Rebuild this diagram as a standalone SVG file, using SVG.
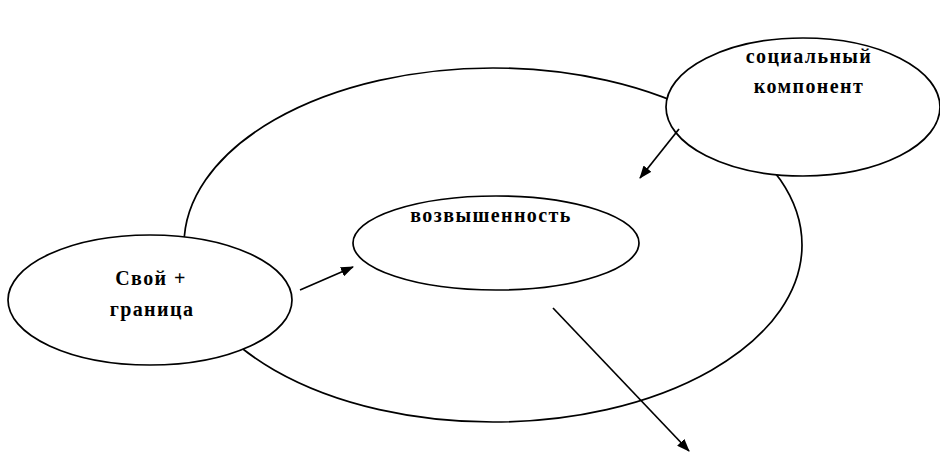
<svg xmlns="http://www.w3.org/2000/svg" width="940" height="452" viewBox="0 0 940 452">
<style>
.e{fill:#fff;stroke:#000;stroke-width:1.7}
.big{fill:none;stroke:#000;stroke-width:1.7}
.t{font-family:"Liberation Serif","Times New Roman",serif;font-weight:bold;font-size:20px;letter-spacing:1.4px;fill:#000;text-anchor:middle}
.c{stroke:#000;stroke-width:1.7;fill:none;marker-end:url(#ah)}
</style>
<defs>
<marker id="ah" viewBox="0 0 13 10" refX="12" refY="5" markerWidth="13" markerHeight="10" markerUnits="userSpaceOnUse" orient="auto">
<path d="M0,0 L13,5 L0,10 z" fill="#000"/>
</marker>
</defs>
<g id="outer"><ellipse class="big" cx="493" cy="245" rx="309" ry="177"/></g>
<g id="center"><ellipse class="e" cx="496" cy="243" rx="143" ry="47"/><text class="t" x="491" y="222">возвышенность</text></g>
<g id="left"><ellipse class="e" cx="150" cy="300" rx="142" ry="65"/><text class="t" x="151" y="285">Свой +</text><text class="t" x="152" y="316">граница</text></g>
<g id="social"><ellipse class="e" cx="803" cy="107" rx="137" ry="69"/><text class="t" x="809" y="63">социальный</text><text class="t" x="809" y="93">компонент</text></g>
<g id="connectors">
<line class="c" x1="300" y1="290" x2="353" y2="267"/>
<line class="c" x1="679" y1="129" x2="640" y2="178"/>
<line class="c" x1="553" y1="308" x2="689" y2="451"/>
</g>
</svg>
